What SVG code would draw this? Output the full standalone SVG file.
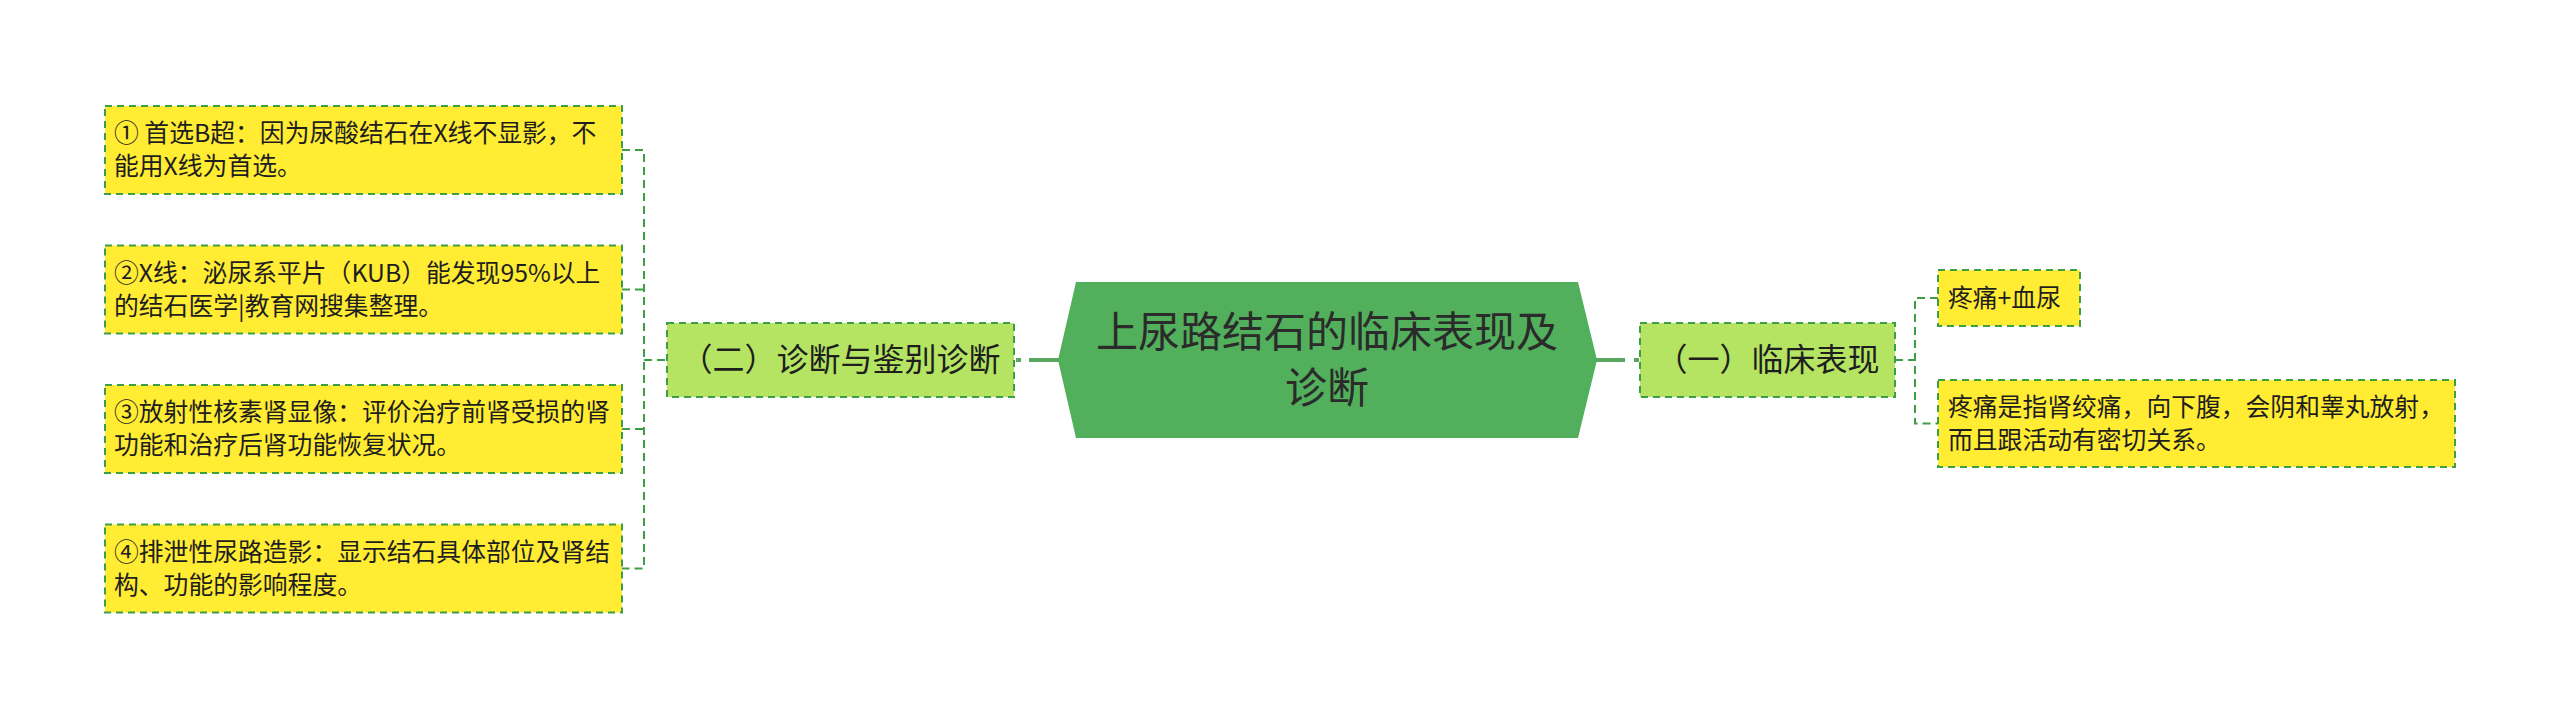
<svg xmlns="http://www.w3.org/2000/svg" width="2560" height="720" viewBox="0 0 2560 720">
  <style>
    text { font-family: "Noto Sans CJK SC", "Noto Sans", "Liberation Sans", sans-serif; fill: #1e1e1e; }
    .leaf rect { fill: #FFEC33; stroke: #3E9E48; stroke-width: 2; stroke-dasharray: 7 5; }
    .sub rect { fill: #B4E462; stroke: #3E9E48; stroke-width: 2; stroke-dasharray: 7 5; }
    .leaf text { font-size: 24.8px; }
    .sub text { font-size: 32px; text-anchor: middle; }
    .root text { font-size: 42px; text-anchor: middle; fill: #2b2b2b; }
    .dash { fill: none; stroke: #3E9E48; stroke-width: 2; stroke-dasharray: 8 5; }
    .solid { fill: none; stroke: #55A85E; stroke-width: 4; }
  </style>
  <rect x="0" y="0" width="2560" height="720" fill="#FFFFFF"/>

  <g id="connectors">
    <path class="dash" d="M622 150 H644 V568.5 H622 M622 289.5 H644 M622 429 H644 M644 360 H667"/>
    <path class="dash" d="M1938 298 H1915 V423.5 H1938 M1895 360 H1915"/>
    <path class="solid" d="M1016 360 H1021 M1029 360 H1060"/>
    <path class="solid" d="M1595 360 H1625 M1634 360 H1639"/>
  </g>

  <g id="root" class="root">
    <polygon points="1058,360 1076,282 1578,282 1597,360 1578,438 1076,438" fill="#52AF5C"/>
    <text x="1327" y="347">上尿路结石的临床表现及</text>
    <text x="1327" y="403">诊断</text>
  </g>

  <g id="branch-diagnosis" class="sub">
    <rect x="667" y="323" width="347" height="74"/>
    <text x="840.5" y="371">（二）诊断与鉴别诊断</text>
  </g>

  <g id="branch-clinical" class="sub">
    <rect x="1640" y="323" width="255" height="74"/>
    <text x="1767.5" y="371">（一）临床表现</text>
  </g>

  <g id="leaf-1" class="leaf">
    <rect x="105" y="106" width="517" height="88"/>
    <text x="114" y="142">① 首选B超：因为尿酸结石在X线不显影，不</text>
    <text x="114" y="175">能用X线为首选。</text>
  </g>

  <g id="leaf-2" class="leaf">
    <rect x="105" y="245.5" width="517" height="88"/>
    <text x="114" y="281.5">②X线：泌尿系平片（KUB）能发现95%以上</text>
    <text x="114" y="314.5">的结石医学|教育网搜集整理。</text>
  </g>

  <g id="leaf-3" class="leaf">
    <rect x="105" y="385" width="517" height="88"/>
    <text x="114" y="421">③放射性核素肾显像：评价治疗前肾受损的肾</text>
    <text x="114" y="454">功能和治疗后肾功能恢复状况。</text>
  </g>

  <g id="leaf-4" class="leaf">
    <rect x="105" y="524.5" width="517" height="88"/>
    <text x="114" y="560.5">④排泄性尿路造影：显示结石具体部位及肾结</text>
    <text x="114" y="593.5">构、功能的影响程度。</text>
  </g>

  <g id="leaf-5" class="leaf">
    <rect x="1938" y="270" width="142" height="56"/>
    <text x="1948" y="307">疼痛+血尿</text>
  </g>

  <g id="leaf-6" class="leaf">
    <rect x="1938" y="380" width="517" height="87"/>
    <text x="1948" y="416">疼痛是指肾绞痛，向下腹，会阴和睾丸放射，</text>
    <text x="1948" y="449">而且跟活动有密切关系。</text>
  </g>
</svg>
